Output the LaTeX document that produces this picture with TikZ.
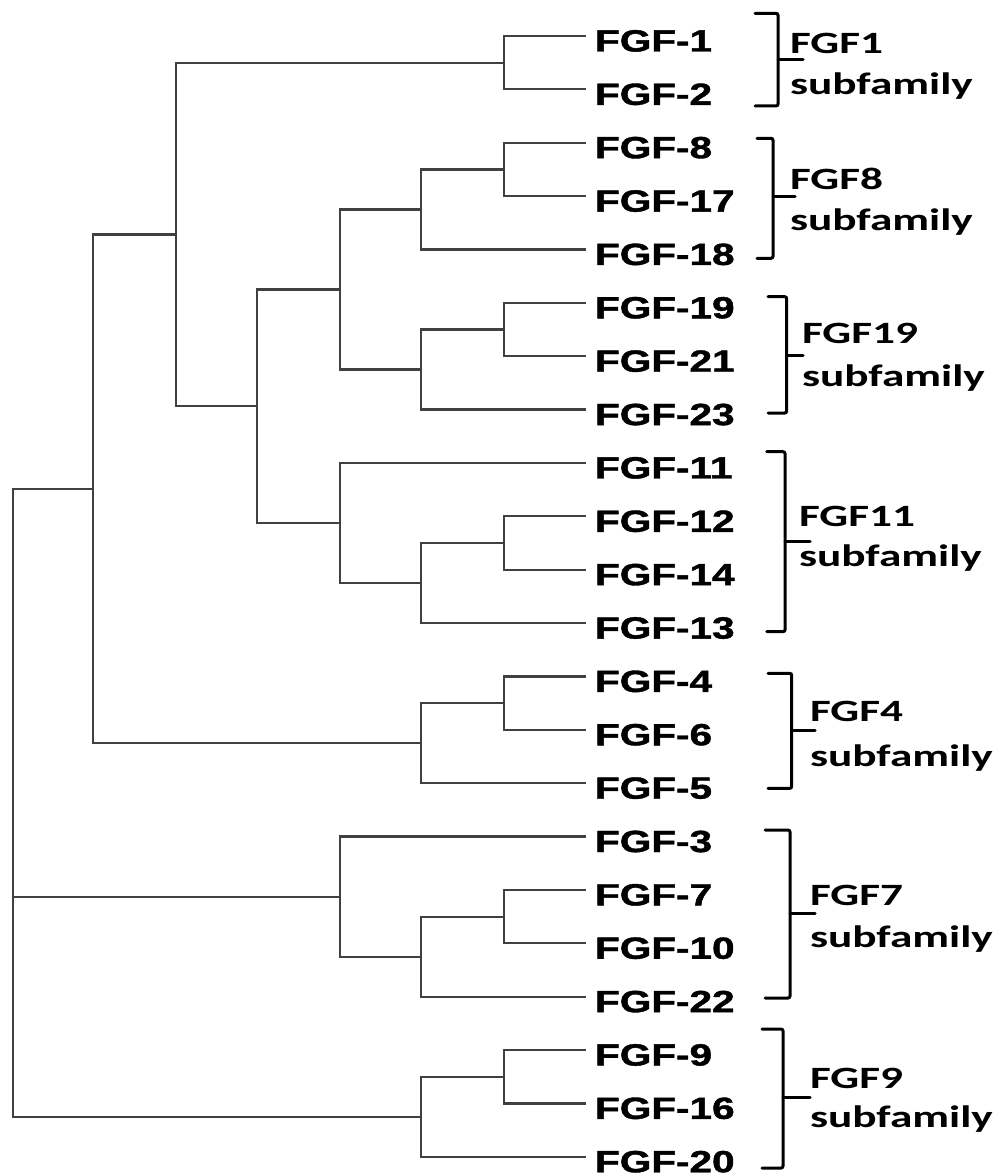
\documentclass[tikz,border=0pt]{standalone}
\usepackage{fontspec}
\usepackage{graphicx}
\newfontfamily\leaffont{Liberation Sans Bold}[FakeBold=1.2]
\newfontfamily\subfont{Carlito Bold}
\newcommand{\leaftxt}[1]{\scalebox{1.32}[1]{\leaffont\fontsize{30.7}{36}\selectfont #1}}
\newcommand{\subtxt}[1]{\scalebox{1.46}[1]{\subfont\fontsize{31}{36}\selectfont #1}}
\tikzset{
  branch/.style={draw=black!75, line width=2.2pt, line cap=rect},
  leaflab/.style={anchor=base west, inner sep=0pt, outer sep=0pt},
  sublab/.style={anchor=base west, inner sep=0pt, outer sep=0pt},
  bracketline/.style={draw=black, line width=3pt, rounded corners=2pt, line cap=round},
}
\begin{document}
\begin{tikzpicture}[x=1pt,y=-1pt]
\useasboundingbox (0,0) rectangle (999,1174);
\fill[white] (0,0) rectangle (999,1174);
% leaf end points
\coordinate (l1)  at (585,36);
\coordinate (l2)  at (585,89.37);
\coordinate (l8)  at (585,142.74);
\coordinate (l17) at (585,196.11);
\coordinate (l18) at (585,249.48);
\coordinate (l19) at (585,302.85);
\coordinate (l21) at (585,356.22);
\coordinate (l23) at (585,409.59);
\coordinate (l11) at (585,462.96);
\coordinate (l12) at (585,516.33);
\coordinate (l14) at (585,569.70);
\coordinate (l13) at (585,623.07);
\coordinate (l4)  at (585,676.44);
\coordinate (l6)  at (585,729.81);
\coordinate (l5)  at (585,783.18);
\coordinate (l3)  at (585,836.55);
\coordinate (l7)  at (585,889.92);
\coordinate (l10) at (585,943.29);
\coordinate (l22) at (585,996.66);
\coordinate (l9)  at (585,1050.03);
\coordinate (l16) at (585,1103.40);
\coordinate (l20) at (585,1156.77);
% internal nodes
\coordinate (p1)  at (504,62.69);
\coordinate (p8)  at (504,169.43);
\coordinate (q8)  at (421,209.45);
\coordinate (p19) at (504,329.54);
\coordinate (q19) at (421,369.56);
\coordinate (nD)  at (340,289.50);
\coordinate (p12) at (504,543.02);
\coordinate (q12) at (421,583.04);
\coordinate (nE)  at (340,523.00);
\coordinate (nC)  at (257,406.25);
\coordinate (nB)  at (176,234.47);
\coordinate (p4)  at (504,703.13);
\coordinate (q4)  at (421,743.15);
\coordinate (nA)  at (93,488.81);
\coordinate (p7)  at (504,916.60);
\coordinate (q7)  at (421,956.63);
\coordinate (nF)  at (340,896.59);
\coordinate (p9)  at (504,1076.72);
\coordinate (q9)  at (421,1116.74);
\coordinate (root) at (13,802.78);
% branches
\draw[branch] (p1) |- (l1); \draw[branch] (p1) |- (l2);
\draw[branch] (p8) |- (l8); \draw[branch] (p8) |- (l17);
\draw[branch] (q8) |- (p8); \draw[branch] (q8) |- (l18);
\draw[branch] (p19) |- (l19); \draw[branch] (p19) |- (l21);
\draw[branch] (q19) |- (p19); \draw[branch] (q19) |- (l23);
\draw[branch] (nD) |- (q8); \draw[branch] (nD) |- (q19);
\draw[branch] (p12) |- (l12); \draw[branch] (p12) |- (l14);
\draw[branch] (q12) |- (p12); \draw[branch] (q12) |- (l13);
\draw[branch] (nE) |- (l11); \draw[branch] (nE) |- (q12);
\draw[branch] (nC) |- (nD); \draw[branch] (nC) |- (nE);
\draw[branch] (nB) |- (p1); \draw[branch] (nB) |- (nC);
\draw[branch] (p4) |- (l4); \draw[branch] (p4) |- (l6);
\draw[branch] (q4) |- (p4); \draw[branch] (q4) |- (l5);
\draw[branch] (nA) |- (nB); \draw[branch] (nA) |- (q4);
\draw[branch] (p7) |- (l7); \draw[branch] (p7) |- (l10);
\draw[branch] (q7) |- (p7); \draw[branch] (q7) |- (l22);
\draw[branch] (nF) |- (l3); \draw[branch] (nF) |- (q7);
\draw[branch] (p9) |- (l9); \draw[branch] (p9) |- (l16);
\draw[branch] (q9) |- (p9); \draw[branch] (q9) |- (l20);
\draw[branch] (root) |- (nA); \draw[branch] (root) |- (nF); \draw[branch] (root) |- (q9);
% leaf labels
\foreach \n/\y in {1/36,2/89.37,8/142.74,17/196.11,18/249.48,19/302.85,21/356.22,23/409.59,11/462.96,12/516.33,14/569.70,13/623.07,4/676.44,6/729.81,5/783.18,3/836.55,7/889.92,10/943.29,22/996.66,9/1050.03,16/1103.40,20/1156.77}{
  \node[leaflab] (t\n) at (595,\y+15.5) {\leaftxt{FGF-\n}};
}
% brackets
\foreach \nm/\xl/\xv/\yt/\yb/\ym/\xt in {
  b1/755/778/13.3/106/59.3/803,
  b8/757/773/138.3/258.3/196.7/795,
  b19/768/786.7/296.7/413/355/803,
  b11/766.7/785/451.7/631.7/541/810,
  b4/768/791.7/673.3/788.3/730.7/815,
  b7/765/790/830/998/913/815,
  b9/762/783/1029/1168/1097/810}{
  \coordinate (\nm tl) at (\xl,\yt);
  \coordinate (\nm tr) at (\xv,\yt);
  \coordinate (\nm br) at (\xv,\yb);
  \coordinate (\nm bl) at (\xl,\yb);
  \coordinate (\nm m) at (\xv,\ym);
  \coordinate (\nm t) at (\xt,\ym);
  \draw[bracketline] (\nm tl) -- (\nm tr) -- (\nm br) -- (\nm bl);
  \draw[bracketline] (\nm m) -- (\nm t);
}
% subfamily labels
\foreach \nm/\x/\ya/\yb in {FGF1/790/53.3/95, FGF8/790/190/230, FGF19/802/343/386, FGF11/799/526.7/566.7, FGF4/810/721.7/766, FGF7/810/905/947, FGF9/810/1088/1127}{
  \node[sublab] (s\nm) at (\x,\ya) {\subtxt{\nm}};
  \node[sublab] (u\nm) at (\x,\yb) {\subtxt{subfamily}};
}
\end{tikzpicture}
\end{document}
